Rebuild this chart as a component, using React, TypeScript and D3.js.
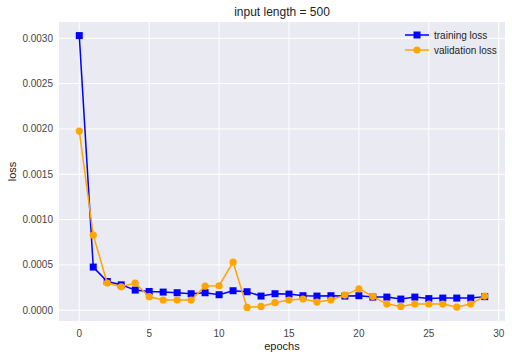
import React, { useEffect, useRef } from "react";
import * as d3 from "d3";

const epochs = d3.range(0, 30);
const trainingLoss = [
  0.00303, 0.000476, 0.000317, 0.00028, 0.000222, 0.000207, 0.0002, 0.000193, 0.000182, 0.000193,
  0.000171, 0.000215, 0.000204, 0.000156, 0.000182, 0.000178, 0.00016, 0.000156, 0.00016, 0.000156,
  0.00016, 0.000145, 0.000145, 0.000123, 0.000145, 0.000128, 0.000134, 0.000134, 0.000134, 0.00015,
];
const validationLoss = [
  0.001977, 0.000828, 0.0003, 0.000259, 0.0003, 0.000149, 0.000112, 0.000112, 0.000112, 0.000266,
  0.00027, 0.00053, 0.000031, 0.000042, 0.000083, 0.000112, 0.000123, 0.00009, 0.000112, 0.000167,
  0.000237, 0.000152, 0.000068, 0.000042, 0.000068, 0.000068, 0.000068, 0.000035, 0.000068, 0.000156,
];
const xTicks = [0, 5, 10, 15, 20, 25, 30];
const yTicks = [0, 0.0005, 0.001, 0.0015, 0.002, 0.0025, 0.003];

const W = 512, H = 359;
const margin = { top: 22, right: 7, bottom: 38, left: 59 };
const font = "'Liberation Sans', Arial, sans-serif";

export default function App() {
  const ref = useRef<SVGSVGElement>(null);

  useEffect(() => {
    const svg = d3.select(ref.current);
    svg.selectAll("*").remove();
    const w = W - margin.left - margin.right;
    const h = H - margin.top - margin.bottom;

    const x = d3.scaleLinear().domain([-1.45, 30.45]).range([margin.left, margin.left + w]);
    const yMax = d3.max(trainingLoss)!;
    const yMin = d3.min(validationLoss)!;
    const pad = (yMax - yMin) * 0.05;
    const y = d3.scaleLinear().domain([yMin - pad, yMax + pad]).range([margin.top + h, margin.top]);

    svg.append("rect")
      .attr("x", margin.left).attr("y", margin.top)
      .attr("width", w).attr("height", h)
      .attr("fill", "#EAEAF2");

    const g = svg.append("g");
    g.selectAll(".xg").data(xTicks).join("line")
      .attr("x1", d => x(d)).attr("x2", d => x(d))
      .attr("y1", margin.top).attr("y2", margin.top + h)
      .attr("stroke", "white").attr("stroke-width", 1);
    g.selectAll(".yg").data(yTicks).join("line")
      .attr("y1", d => y(d)).attr("y2", d => y(d))
      .attr("x1", margin.left).attr("x2", margin.left + w)
      .attr("stroke", "white").attr("stroke-width", 1);

    svg.append("g").selectAll("text").data(xTicks).join("text")
      .attr("x", d => x(d)).attr("y", margin.top + h + 16)
      .attr("text-anchor", "middle")
      .attr("font-family", font).attr("font-size", 10).attr("fill", "#444")
      .text(d => d);
    svg.append("g").selectAll("text").data(yTicks).join("text")
      .attr("x", margin.left - 6).attr("y", d => y(d) + 3.5)
      .attr("text-anchor", "end")
      .attr("font-family", font).attr("font-size", 10).attr("fill", "#444")
      .text(d => d3.format(".4f")(d));

    svg.append("text")
      .attr("x", margin.left + w / 2).attr("y", 16)
      .attr("text-anchor", "middle")
      .attr("font-family", font).attr("font-size", 12).attr("fill", "#222")
      .text("input length = 500");
    svg.append("text")
      .attr("x", margin.left + w / 2).attr("y", 350)
      .attr("text-anchor", "middle")
      .attr("font-family", font).attr("font-size", 11).attr("fill", "#222")
      .text("epochs");
    svg.append("text")
      .attr("transform", `translate(16, ${margin.top + h / 2}) rotate(-90)`)
      .attr("text-anchor", "middle")
      .attr("font-family", font).attr("font-size", 11).attr("fill", "#222")
      .text("loss");

    const line = (vals: number[]) =>
      d3.line<number>().x((_, i) => x(epochs[i])).y(d => y(d))(vals);

    svg.append("path").attr("d", line(trainingLoss)!)
      .attr("fill", "none").attr("stroke", "blue").attr("stroke-width", 1.5);
    svg.append("g").selectAll("rect").data(trainingLoss).join("rect")
      .attr("x", (_, i) => x(epochs[i]) - 3.5).attr("y", d => y(d) - 3.5)
      .attr("width", 7).attr("height", 7).attr("fill", "blue");

    svg.append("path").attr("d", line(validationLoss)!)
      .attr("fill", "none").attr("stroke", "orange").attr("stroke-width", 1.5);
    svg.append("g").selectAll("circle").data(validationLoss).join("circle")
      .attr("cx", (_, i) => x(epochs[i])).attr("cy", d => y(d))
      .attr("r", 3.6).attr("fill", "orange");

    const legend = [
      { label: "training loss", color: "blue", shape: "square" },
      { label: "validation loss", color: "orange", shape: "circle" },
    ];
    const lg = svg.append("g");
    legend.forEach((item, i) => {
      const ly = 35 + i * 15;
      lg.append("line").attr("x1", 405).attr("x2", 429).attr("y1", ly).attr("y2", ly)
        .attr("stroke", item.color).attr("stroke-width", 1.5);
      if (item.shape === "square") {
        lg.append("rect").attr("x", 413.5).attr("y", ly - 3.5).attr("width", 7).attr("height", 7).attr("fill", item.color);
      } else {
        lg.append("circle").attr("cx", 417).attr("cy", ly).attr("r", 3.6).attr("fill", item.color);
      }
      lg.append("text").attr("x", 434).attr("y", ly + 3.5)
        .attr("font-family", font).attr("font-size", 10).attr("fill", "#222")
        .text(item.label);
    });
  }, []);

  return (
    <svg ref={ref} width={W} height={H}
      style={{ position: "absolute", left: 0, top: 0, background: "white" }} />
  );
}
